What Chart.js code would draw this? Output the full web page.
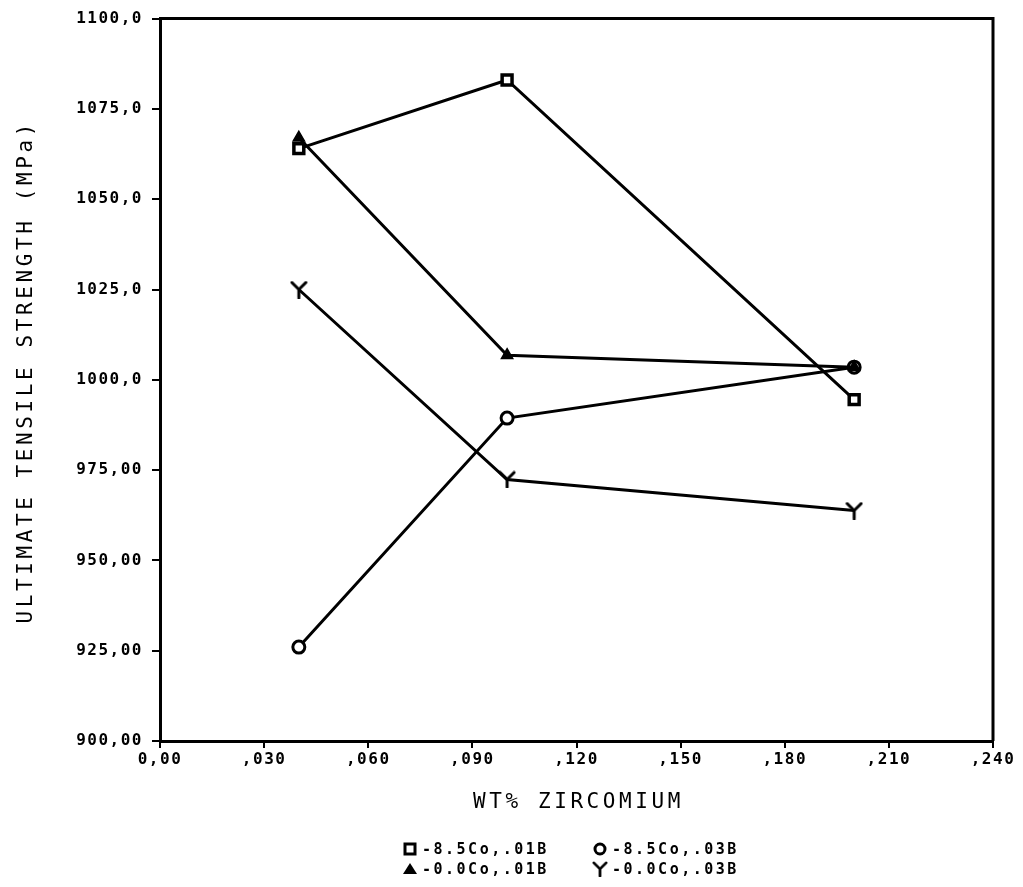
<!DOCTYPE html>
<html>
<head>
<meta charset="utf-8">
<script src="https://cdn.jsdelivr.net/npm/chart.js@4/dist/chart.umd.min.js"></script>
<style>
  html, body { margin: 0; padding: 0; background: #fff; }
  #wrap { width: 1023px; height: 887px; position: relative; }
</style>
</head>
<body>
<div id="wrap"><canvas id="c" width="1023" height="887"></canvas></div>
<script>
// ---- data ----
const zirconium = [0.04, 0.10, 0.20];
const co85_b01 = [1064, 1083, 994.5];
const co00_b01 = [1067, 1006.8, 1003.5];
const co85_b03 = [926, 989.4, 1003.5];
const co00_b03 = [1025, 972.4, 963.8];

const seriesNames = ['-8.5Co,.01B', '-8.5Co,.03B', '-0.0Co,.01B', '-0.0Co,.03B'];

const xTickValues = [0, 0.03, 0.06, 0.09, 0.12, 0.15, 0.18, 0.21, 0.24];
const xTickLabels = ['0,00', ',030', ',060', ',090', ',120', ',150', ',180', ',210', ',240'];
const yTickValues = [900, 925, 950, 975, 1000, 1025, 1050, 1075, 1100];
const yTickLabels = ['900,00', '925,00', '950,00', '975,00', '1000,0', '1025,0', '1050,0', '1075,0', '1100,0'];

const xTitle = 'WT% ZIRCOMIUM';
const yTitle = 'ULTIMATE TENSILE STRENGTH (MPa)';

// ---- custom "Y" marker ----
function makeYMarker(size, lw) {
  const c = document.createElement('canvas');
  c.width = size; c.height = size;
  const g = c.getContext('2d');
  g.strokeStyle = '#000'; g.lineWidth = lw; g.lineCap = 'round';
  const m = size / 2;
  g.beginPath();
  g.moveTo(2, 2); g.lineTo(m, m);
  g.lineTo(size - 2, 2);
  g.moveTo(m, m); g.lineTo(m, size - 1);
  g.stroke();
  return c;
}
const yMarker = makeYMarker(18, 3);

function toPoints(vals) { return zirconium.map((x, i) => ({ x: x, y: vals[i] })); }

const base = { borderColor: '#000', borderWidth: 3, tension: 0, pointBorderColor: '#000', pointBorderWidth: 3, fill: false };

const TICK_FONT = { family: 'DejaVu Sans Mono', size: 16, weight: 'bold' };
const TICK_SPACING = '1.5px';

const framePlugin = {
  id: 'frame',
  beforeUpdate(chart) { chart.ctx.letterSpacing = TICK_SPACING; },
  beforeDraw(chart) {
    const ctx = chart.ctx;
    ctx.save();
    ctx.fillStyle = '#fff';
    ctx.fillRect(0, 0, chart.width, chart.height);
    ctx.restore();
    ctx.letterSpacing = TICK_SPACING;
  },
  afterDraw(chart) {
    const ctx = chart.ctx;
    const a = chart.chartArea;
    ctx.save();
    // frame (top and right sides)
    ctx.strokeStyle = '#000';
    ctx.lineWidth = 3;
    ctx.beginPath();
    ctx.moveTo(a.left, a.top); ctx.lineTo(a.right, a.top); ctx.lineTo(a.right, a.bottom);
    ctx.stroke();

    // axis titles
    ctx.fillStyle = '#000';
    ctx.font = '21px "DejaVu Sans Mono"';
    ctx.letterSpacing = '3.6px';
    ctx.textAlign = 'center';
    ctx.textBaseline = 'middle';
    ctx.fillText(xTitle, (a.left + a.right) / 2 + 2, 803);
    ctx.save();
    ctx.translate(27, (a.top + a.bottom) / 2 - 6);
    ctx.rotate(-Math.PI / 2);
    ctx.fillText(yTitle, 2, 0);
    ctx.restore();

    // legend
    ctx.font = 'bold 15px "DejaVu Sans Mono"';
    ctx.letterSpacing = '2.5px';
    ctx.textAlign = 'left';
    const cols = [410, 600];
    const rows = [849, 869];
    const items = [
      { name: seriesNames[0], col: 0, row: 0, style: 'rect' },
      { name: seriesNames[1], col: 1, row: 0, style: 'circle' },
      { name: seriesNames[2], col: 0, row: 1, style: 'triangle' },
      { name: seriesNames[3], col: 1, row: 1, style: 'Y' }
    ];
    items.forEach(it => {
      const x = cols[it.col], y = rows[it.row];
      ctx.lineWidth = 3;
      ctx.strokeStyle = '#000';
      ctx.fillStyle = '#000';
      if (it.style === 'rect') {
        ctx.fillStyle = '#fff';
        ctx.fillRect(x - 5, y - 5, 10, 10);
        ctx.strokeRect(x - 5, y - 5, 10, 10);
      } else if (it.style === 'circle') {
        ctx.beginPath(); ctx.arc(x, y, 5, 0, Math.PI * 2); ctx.stroke();
      } else if (it.style === 'triangle') {
        ctx.beginPath(); ctx.moveTo(x, y - 6); ctx.lineTo(x + 7, y + 5); ctx.lineTo(x - 7, y + 5); ctx.closePath(); ctx.fill();
      } else {
        ctx.drawImage(yMarker, x - 8, y - 8, 16, 16);
      }
      ctx.fillStyle = '#000';
      ctx.fillText(it.name, x + 12, y + 1);
    });
    ctx.restore();
  }
};

new Chart(document.getElementById('c'), {
  type: 'line',
  data: {
    datasets: [
      Object.assign({}, base, { label: seriesNames[0], order: 0, data: toPoints(co85_b01), pointStyle: 'rect', pointRadius: 7, pointBorderWidth: 3.5, pointBackgroundColor: '#fff' }),
      Object.assign({}, base, { label: seriesNames[1], order: 2, data: toPoints(co85_b03), pointStyle: 'circle', pointRadius: 6, pointBackgroundColor: '#fff' }),
      Object.assign({}, base, { label: seriesNames[2], order: 1, data: toPoints(co00_b01), pointStyle: 'triangle', pointRadius: 6.5, pointBackgroundColor: '#000', pointBorderWidth: 1.5 }),
      Object.assign({}, base, { label: seriesNames[3], order: 3, data: toPoints(co00_b03), pointStyle: yMarker, pointRadius: 8 })
    ]
  },
  options: {
    responsive: false,
    animation: false,
    events: [],
    layout: { padding: { top: 15, right: 30, bottom: 0, left: 0 } },
    plugins: { legend: { display: false }, tooltip: { enabled: false }, title: { display: false } },
    scales: {
      x: {
        type: 'linear',
        min: 0, max: 0.24,
        afterBuildTicks(scale) { scale.ticks = xTickValues.map(v => ({ value: v })); },
        afterFit(scale) { scale.height = 146; },
        ticks: {
          autoSkip: false, maxRotation: 0, minRotation: 0,
          color: '#000', font: TICK_FONT, padding: 2,
          callback: (v, i) => xTickLabels[i]
        },
        grid: { drawOnChartArea: false, drawTicks: true, tickLength: 7, color: '#000', lineWidth: 2 },
        border: { display: true, color: '#000', width: 3 }
      },
      y: {
        type: 'linear',
        min: 900, max: 1100,
        afterBuildTicks(scale) { scale.ticks = yTickValues.map(v => ({ value: v })); },
        afterFit(scale) { scale.width = 160; },
        ticks: {
          autoSkip: false,
          color: '#000', font: TICK_FONT, padding: 9,
          callback: (v, i) => yTickLabels[i]
        },
        grid: { drawOnChartArea: false, drawTicks: true, tickLength: 8, color: '#000', lineWidth: 2 },
        border: { display: true, color: '#000', width: 3 }
      }
    }
  },
  plugins: [framePlugin]
});
</script>
</body>
</html>
